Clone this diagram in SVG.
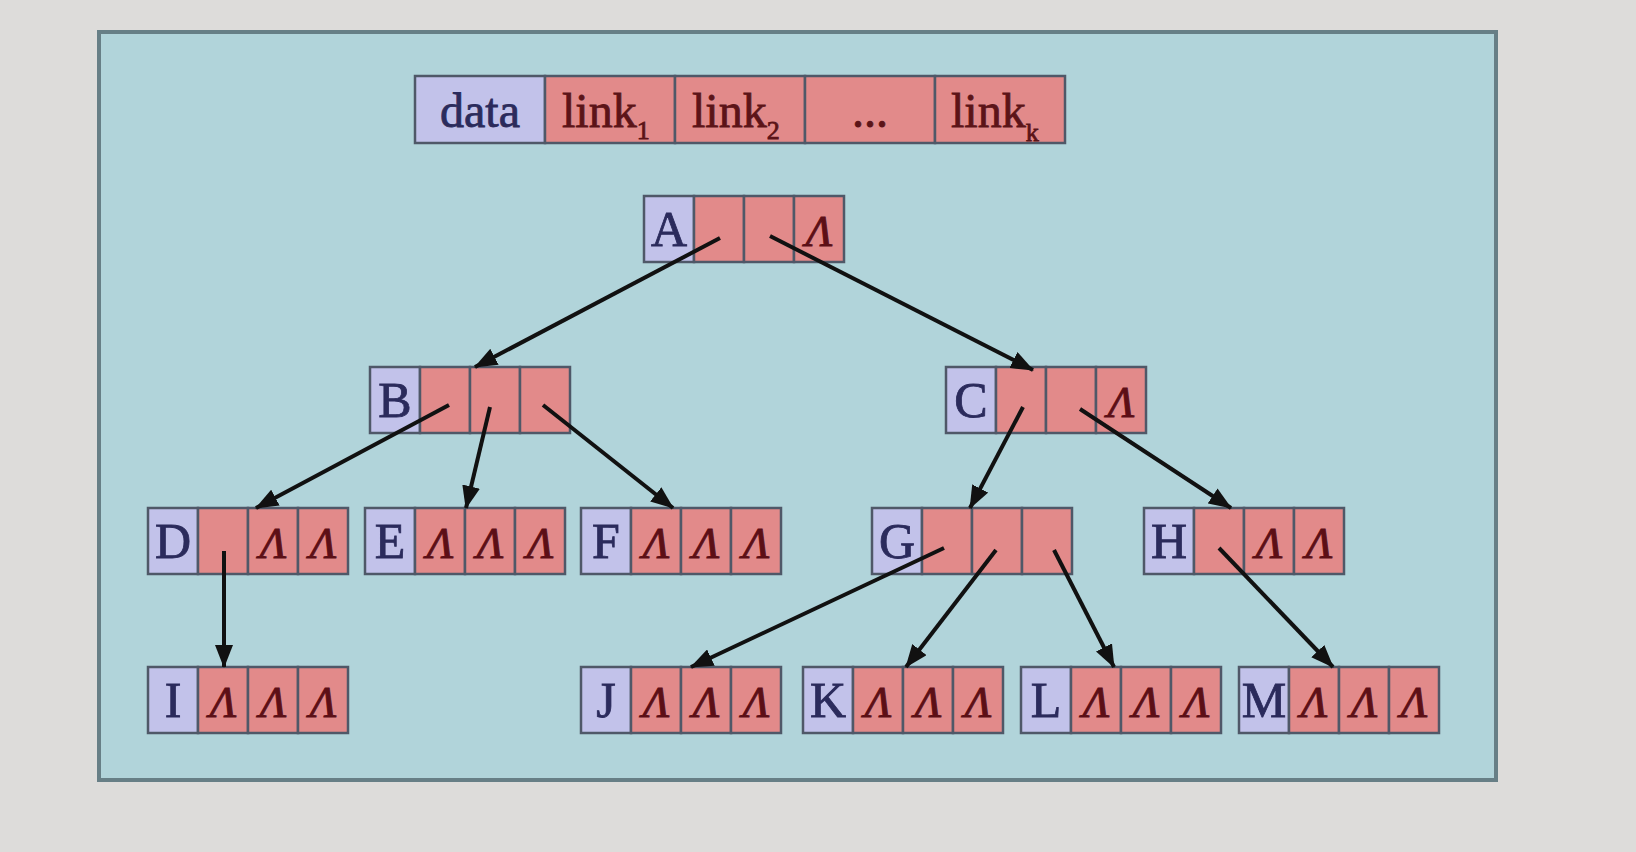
<svg xmlns="http://www.w3.org/2000/svg" width="1636" height="852" viewBox="0 0 1636 852">
<defs>
<style>
.d{fill:#c2c2ea;stroke:#4f5868;stroke-width:2.5}
.l{fill:#e28a8a;stroke:#4f5868;stroke-width:2.5}
.t{font-family:"Liberation Serif",serif;font-size:50px;fill:#2b2b5c;text-anchor:middle;stroke:#2b2b5c;stroke-width:0.8}
.n{font-family:"Liberation Serif",serif;font-size:44px;font-style:italic;fill:#5c0f16;text-anchor:middle;stroke:#5c0f16;stroke-width:1}
.h{font-family:"Liberation Serif",serif;font-size:48px;fill:#5c1418;stroke:#5c1418;stroke-width:0.8}
.hs{font-size:26px}
.c{stroke:#111;stroke-width:4;fill:none;marker-end:url(#ah)}
</style>
<marker id="ah" markerUnits="userSpaceOnUse" markerWidth="24" markerHeight="18" refX="22" refY="9" orient="auto">
<path d="M0,0 L23,9 L0,18 Z" fill="#111"/>
</marker>
</defs>
<rect x="0" y="0" width="1636" height="852" fill="#dddcda"/>
<rect id="panel" x="99" y="32" width="1397" height="748" fill="#b1d4da" stroke="#677f86" stroke-width="4"/>

<g id="header">
<rect class="d" x="415" y="76" width="130" height="67"/>
<rect class="l" x="545" y="76" width="130" height="67"/>
<rect class="l" x="675" y="76" width="130" height="67"/>
<rect class="l" x="805" y="76" width="130" height="67"/>
<rect class="l" x="935" y="76" width="130" height="67"/>
<text x="480" y="127" class="t" style="font-size:48px">data</text>
<text x="562" y="127" class="h">link<tspan class="hs" dy="12">1</tspan></text>
<text x="692" y="127" class="h">link<tspan class="hs" dy="12">2</tspan></text>
<text x="870" y="127" class="h" text-anchor="middle">...</text>
<text x="951" y="127" class="h">link<tspan class="hs" dy="14">k</tspan></text>
</g>

<g id="nodeA" transform="translate(644,196)">
<rect class="d" x="0" y="0" width="50" height="66"/><rect class="l" x="50" y="0" width="50" height="66"/><rect class="l" x="100" y="0" width="50" height="66"/><rect class="l" x="150" y="0" width="50" height="66"/>
<text class="t" x="25" y="50">A</text><text class="n" x="175" y="50">Λ</text>
</g>
<g id="nodeB" transform="translate(370,367)">
<rect class="d" x="0" y="0" width="50" height="66"/><rect class="l" x="50" y="0" width="50" height="66"/><rect class="l" x="100" y="0" width="50" height="66"/><rect class="l" x="150" y="0" width="50" height="66"/>
<text class="t" x="25" y="50">B</text>
</g>
<g id="nodeC" transform="translate(946,367)">
<rect class="d" x="0" y="0" width="50" height="66"/><rect class="l" x="50" y="0" width="50" height="66"/><rect class="l" x="100" y="0" width="50" height="66"/><rect class="l" x="150" y="0" width="50" height="66"/>
<text class="t" x="25" y="50">C</text><text class="n" x="175" y="50">Λ</text>
</g>
<g id="nodeD" transform="translate(148,508)">
<rect class="d" x="0" y="0" width="50" height="66"/><rect class="l" x="50" y="0" width="50" height="66"/><rect class="l" x="100" y="0" width="50" height="66"/><rect class="l" x="150" y="0" width="50" height="66"/>
<text class="t" x="25" y="50">D</text><text class="n" x="125" y="50">Λ</text><text class="n" x="175" y="50">Λ</text>
</g>
<g id="nodeE" transform="translate(365,508)">
<rect class="d" x="0" y="0" width="50" height="66"/><rect class="l" x="50" y="0" width="50" height="66"/><rect class="l" x="100" y="0" width="50" height="66"/><rect class="l" x="150" y="0" width="50" height="66"/>
<text class="t" x="25" y="50">E</text><text class="n" x="75" y="50">Λ</text><text class="n" x="125" y="50">Λ</text><text class="n" x="175" y="50">Λ</text>
</g>
<g id="nodeF" transform="translate(581,508)">
<rect class="d" x="0" y="0" width="50" height="66"/><rect class="l" x="50" y="0" width="50" height="66"/><rect class="l" x="100" y="0" width="50" height="66"/><rect class="l" x="150" y="0" width="50" height="66"/>
<text class="t" x="25" y="50">F</text><text class="n" x="75" y="50">Λ</text><text class="n" x="125" y="50">Λ</text><text class="n" x="175" y="50">Λ</text>
</g>
<g id="nodeG" transform="translate(872,508)">
<rect class="d" x="0" y="0" width="50" height="66"/><rect class="l" x="50" y="0" width="50" height="66"/><rect class="l" x="100" y="0" width="50" height="66"/><rect class="l" x="150" y="0" width="50" height="66"/>
<text class="t" x="25" y="50">G</text>
</g>
<g id="nodeH" transform="translate(1144,508)">
<rect class="d" x="0" y="0" width="50" height="66"/><rect class="l" x="50" y="0" width="50" height="66"/><rect class="l" x="100" y="0" width="50" height="66"/><rect class="l" x="150" y="0" width="50" height="66"/>
<text class="t" x="25" y="50">H</text><text class="n" x="125" y="50">Λ</text><text class="n" x="175" y="50">Λ</text>
</g>
<g id="nodeI" transform="translate(148,667)">
<rect class="d" x="0" y="0" width="50" height="66"/><rect class="l" x="50" y="0" width="50" height="66"/><rect class="l" x="100" y="0" width="50" height="66"/><rect class="l" x="150" y="0" width="50" height="66"/>
<text class="t" x="25" y="50">I</text><text class="n" x="75" y="50">Λ</text><text class="n" x="125" y="50">Λ</text><text class="n" x="175" y="50">Λ</text>
</g>
<g id="nodeJ" transform="translate(581,667)">
<rect class="d" x="0" y="0" width="50" height="66"/><rect class="l" x="50" y="0" width="50" height="66"/><rect class="l" x="100" y="0" width="50" height="66"/><rect class="l" x="150" y="0" width="50" height="66"/>
<text class="t" x="25" y="50">J</text><text class="n" x="75" y="50">Λ</text><text class="n" x="125" y="50">Λ</text><text class="n" x="175" y="50">Λ</text>
</g>
<g id="nodeK" transform="translate(803,667)">
<rect class="d" x="0" y="0" width="50" height="66"/><rect class="l" x="50" y="0" width="50" height="66"/><rect class="l" x="100" y="0" width="50" height="66"/><rect class="l" x="150" y="0" width="50" height="66"/>
<text class="t" x="25" y="50">K</text><text class="n" x="75" y="50">Λ</text><text class="n" x="125" y="50">Λ</text><text class="n" x="175" y="50">Λ</text>
</g>
<g id="nodeL" transform="translate(1021,667)">
<rect class="d" x="0" y="0" width="50" height="66"/><rect class="l" x="50" y="0" width="50" height="66"/><rect class="l" x="100" y="0" width="50" height="66"/><rect class="l" x="150" y="0" width="50" height="66"/>
<text class="t" x="25" y="50">L</text><text class="n" x="75" y="50">Λ</text><text class="n" x="125" y="50">Λ</text><text class="n" x="175" y="50">Λ</text>
</g>
<g id="nodeM" transform="translate(1239,667)">
<rect class="d" x="0" y="0" width="50" height="66"/><rect class="l" x="50" y="0" width="50" height="66"/><rect class="l" x="100" y="0" width="50" height="66"/><rect class="l" x="150" y="0" width="50" height="66"/>
<text class="t" x="25" y="50">M</text><text class="n" x="75" y="50">Λ</text><text class="n" x="125" y="50">Λ</text><text class="n" x="175" y="50">Λ</text>
</g>

<g id="connectors">
<line class="c" x1="720" y1="238" x2="475" y2="367"/>
<line class="c" x1="770" y1="236" x2="1033" y2="370"/>
<line class="c" x1="449" y1="405" x2="256" y2="508"/>
<line class="c" x1="490" y1="407" x2="466" y2="508"/>
<line class="c" x1="543" y1="405" x2="673" y2="508"/>
<line class="c" x1="1023" y1="407" x2="970" y2="508"/>
<line class="c" x1="1080" y1="409" x2="1231" y2="508"/>
<line class="c" x1="224" y1="551" x2="224" y2="667"/>
<line class="c" x1="944" y1="548" x2="691" y2="667"/>
<line class="c" x1="996" y1="550" x2="906" y2="667"/>
<line class="c" x1="1054" y1="550" x2="1114" y2="667"/>
<line class="c" x1="1219" y1="548" x2="1333" y2="667"/>
</g>
</svg>
